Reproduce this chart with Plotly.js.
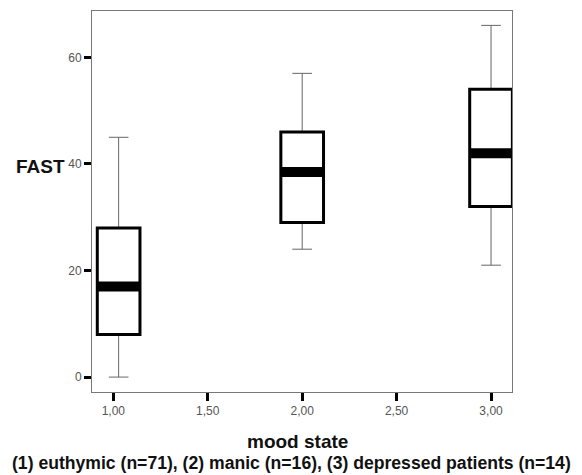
<!DOCTYPE html>
<html>
<head>
<meta charset="utf-8">
<script src="https://cdn.plot.ly/plotly-3.0.1.min.js"></script>
<style>html,body{margin:0;padding:0;background:#fff;}#chart{width:582px;height:475px;}</style>
</head>
<body>
<div id="chart"></div>
<script>
// Data (box 1 is drawn slightly right of its tick in the original)
var positions = [1.028, 2, 3];
var q1Values = [8, 29, 32];
var medianValues = [17, 38.5, 42];
var q3Values = [28, 46, 54];
var lowerWhisker = [0, 24, 21];
var upperWhisker = [45, 57, 66];
var xTickVals = [1, 1.5, 2, 2.5, 3];
var xTickText = ['1,00', '1,50', '2,00', '2,50', '3,00'];
var yTickVals = [0, 20, 40, 60];
var yTickText = ['0', '20', '40', '60'];

var boxWidth = 0.226;
var FONT = 'Liberation Sans, Arial, sans-serif';

// Thin gray whiskers (box body hidden beneath the thick box)
var whiskers = {
  type: 'box', x: positions, q1: q1Values, median: medianValues, q3: q3Values,
  lowerfence: lowerWhisker, upperfence: upperWhisker,
  width: boxWidth, whiskerwidth: 0.46, boxpoints: false,
  line: {color: '#666666', width: 1}, fillcolor: '#ffffff',
  hoverinfo: 'skip', showlegend: false
};
// Thick black box bodies
var boxes = {
  type: 'box', x: positions, q1: q1Values, median: medianValues, q3: q3Values,
  lowerfence: q1Values, upperfence: q3Values,
  width: boxWidth, whiskerwidth: 0, boxpoints: false,
  line: {color: '#000000', width: 3}, fillcolor: '#ffffff',
  showlegend: false
};
// Thick median bands
var mx = [], my = [];
positions.forEach(function (p, i) {
  mx.push(p - boxWidth / 2, p + boxWidth / 2, null);
  my.push(medianValues[i], medianValues[i], null);
});
var medians = {
  type: 'scatter', mode: 'lines', x: mx, y: my,
  line: {color: '#000000', width: 10}, hoverinfo: 'skip', showlegend: false
};

var W = 582, H = 475;
var L = 92, R = 70, T = 11, B = 83;
var pw = W - L - R, ph = H - T - B;
function px(x) { return (x - L) / pw; }
function py(y) { return (H - B - y) / ph; }

var layout = {
  width: W, height: H,
  margin: {l: L, r: R, t: T, b: B, pad: 0},
  paper_bgcolor: '#ffffff', plot_bgcolor: '#ffffff',
  boxmode: 'overlay',
  showlegend: false,
  font: {family: FONT},
  xaxis: {
    range: [0.887, 3.111], tickvals: xTickVals, ticktext: xTickText,
    ticks: 'outside', ticklen: 8, tickwidth: 3, tickcolor: '#000000',
    showline: true, linecolor: '#777777', linewidth: 1, mirror: true,
    showgrid: false, zeroline: false,
    tickfont: {family: FONT, size: 12, color: '#555555'}
  },
  yaxis: {
    range: [-2.8, 68.7], tickvals: yTickVals, ticktext: yTickText,
    ticks: 'outside', ticklen: 7, tickwidth: 3, tickcolor: '#000000',
    showline: true, linecolor: '#777777', linewidth: 1, mirror: true,
    showgrid: false, zeroline: false,
    tickfont: {family: FONT, size: 12, color: '#555555'}
  },
  annotations: [
    {text: '<b>FAST</b>', xref: 'paper', yref: 'paper', x: px(14), y: py(166),
     xanchor: 'left', yanchor: 'middle', showarrow: false,
     font: {family: FONT, size: 19, color: '#111111'}},
    {text: '<b>mood state</b>', xref: 'paper', yref: 'paper', x: px(297), y: py(442),
     xanchor: 'center', yanchor: 'middle', showarrow: false,
     font: {family: FONT, size: 19, color: '#111111'}},
    {text: '<b>(1) euthymic (n=71), (2) manic (n=16), (3) depressed patients (n=14)</b>',
     xref: 'paper', yref: 'paper', x: px(291), y: py(462.5),
     xanchor: 'center', yanchor: 'middle', showarrow: false, borderpad: 0,
     font: {family: FONT, size: 17.6, color: '#111111'}}
  ]
};

Plotly.newPlot('chart', [whiskers, boxes, medians], layout, {displayModeBar: false, staticPlot: true});
</script>
</body>
</html>
